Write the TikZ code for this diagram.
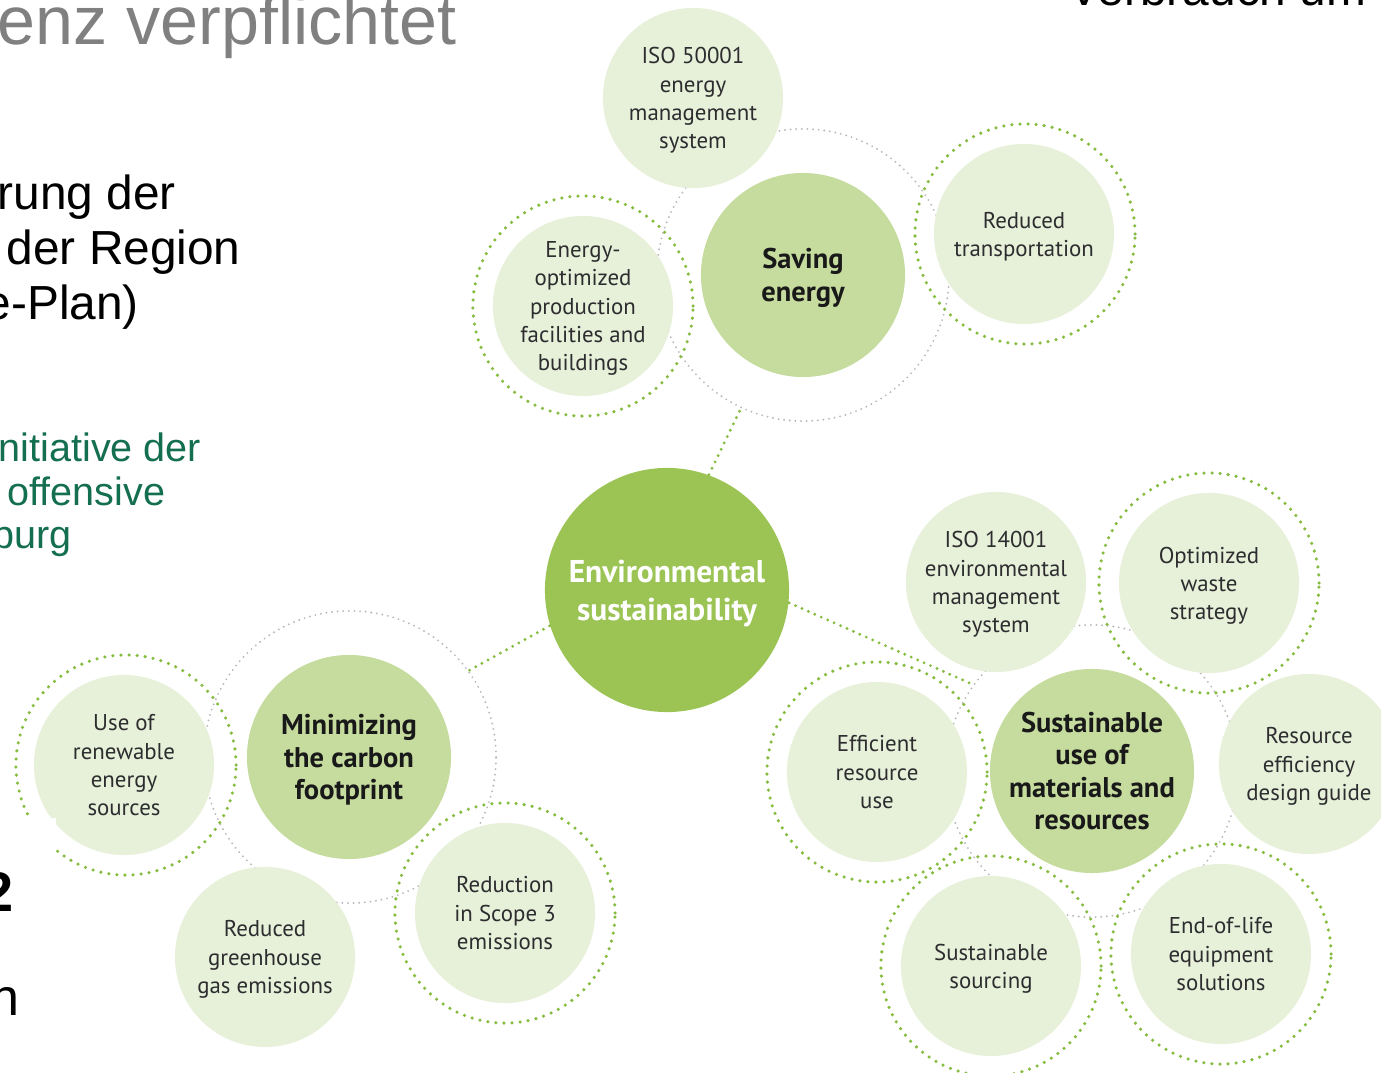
\documentclass[tikz,border=0pt]{standalone}
\usepackage{fontspec}
\setmainfont{Liberation Sans}
\newfontfamily\ptsans{PT Sans}
\definecolor{hubgreen}{RGB}{155,196,85}
\definecolor{topicgreen}{RGB}{198,220,158}
\definecolor{satgreen}{RGB}{231,240,217}
\definecolor{dotgreen}{RGB}{134,188,63}
\definecolor{ringgray}{RGB}{185,185,185}
\definecolor{sattext}{RGB}{45,45,48}
\definecolor{slidegray}{RGB}{128,128,128}
\definecolor{slidegreen}{RGB}{20,110,80}

\begin{document}
\begin{tikzpicture}[x=0.01cm,y=-0.01cm,
        sat/.style={circle,fill=satgreen,minimum size=1.8cm,inner sep=0pt,align=center,
            text=sattext,font=\ptsans\fontsize{6.5}{8}\selectfont,text depth=-1pt},
        topic/.style={circle,fill=topicgreen,minimum size=2.04cm,inner sep=0pt,align=center,
            text=black!90,font=\ptsans\bfseries\fontsize{8.1}{9.25}\selectfont,text depth=-2.4pt},
        hub/.style={circle,fill=hubgreen,minimum size=2.44cm,inner sep=0pt,align=center,
            text=white,font=\ptsans\bfseries\fontsize{8.95}{10.8}\selectfont,text depth=-0.6pt},
        grayring/.style={circle,draw=ringgray,line width=0.6pt,dash pattern=on 0pt off 1.6pt,
            line cap=round,minimum size=2.92cm,inner sep=0pt},
        greenring/.style={draw=dotgreen,line width=1pt,dash pattern=on 0pt off 2.3pt,line cap=round},
        link/.style={draw=dotgreen,line width=0.9pt,dash pattern=on 0pt off 2pt,line cap=round},
        slide/.style={inner sep=0pt,anchor=base west}]
        \useasboundingbox (0,0) rectangle (1381,1073);

        % gray rings round the three topics
        \node[grayring] (S_r) at (803,275) {};
        \node[grayring] (M_r) at (350,757) {};
        \node[grayring] (U_r) at (1092,771) {};

        % green rings
        \draw[greenring] (583,306) circle[radius=1.1cm];
        \draw[greenring] (1025,234) circle[radius=1.1cm];
        \draw[greenring] (126,765) circle[radius=1.1cm];
        \draw[greenring] (505,913) circle[radius=1.1cm];
        \draw[greenring] (1209,583) circle[radius=1.1cm];
        \draw[greenring] (1221,954) circle[radius=1.1cm];
        \draw[greenring] (991,966) circle[radius=1.1cm];
        \draw[greenring] (877,772) circle[radius=1.1cm];

        \node[hub] (E) at (667,590) {Environmental\\sustainability};

        \node[topic] (S) at (803,275) {Saving\\energy};
        \node[sat] (S_1) at (693,98) {ISO 50001\\energy\\management\\system};
        \node[sat] (S_2) at (583,306) {Energy-\\optimized\\production\\facilities and\\buildings};
        \node[sat] (S_3) at (1024,234) {Reduced\\transportation};

        \node[topic] (M) at (349,757) {Minimizing\\the carbon\\footprint};
        \node[sat] (M_1) at (124,765) {Use of\\renewable\\energy\\sources};
        \node[sat] (M_2) at (265,957) {Reduced\\greenhouse\\gas emissions};
        \node[sat] (M_3) at (505,913) {Reduction\\in Scope 3\\emissions};

        \node[topic] (U) at (1092,771) {Sustainable\\use of\\materials and\\resources};
        \node[sat] (U_1) at (996,582) {ISO 14001\\environmental\\management\\system};
        \node[sat] (U_2) at (1209,583) {Optimized\\waste\\strategy};
        \node[sat] (U_3) at (1309,764) {Resource\\efficiency\\design guide};
        \node[sat] (U_4) at (1221,954) {End-of-life\\equipment\\solutions};
        \node[sat] (U_5) at (991,966) {Sustainable\\sourcing};
        \node[sat] (U_6) at (877,772) {Efficient\\resource\\use};

        \draw[link] (E.70) -- (S_r.245);
        \draw[link] (E.197) -- (M_r.36);
        \draw[link] (E.-6) -- (U_r.144);

        % slide text round the picture
        \fill[white] (0,818) rectangle (56,1073);
        \node[slide,text=slidegray,font=\fontsize{19.4}{23}\selectfont] (T_0) at (-3,45) {enz verpflichtet};
        \node[slide,anchor=base east,font=\fontsize{13.6}{15.6}\selectfont] (T_1) at (1367,6) {Verbrauch um};
        \node[slide,font=\fontsize{13.6}{15.6}\selectfont] (T_2) at (-3,210) {rung der};
        \node[slide,font=\fontsize{13.6}{15.6}\selectfont] (T_3) at (6,265) {der Region};
        \node[slide,font=\fontsize{13.6}{15.6}\selectfont] (T_4) at (-16,320) {e-Plan)};
        \node[slide,text=slidegreen,font=\fontsize{11.25}{12.2}\selectfont] (T_5) at (-2,462) {nitiative der};
        \node[slide,text=slidegreen,font=\fontsize{11.25}{12.2}\selectfont] (T_6) at (7,505) {offensive};
        \node[slide,text=slidegreen,font=\fontsize{11.25}{12.2}\selectfont] (T_7) at (-8,548) {burg};
        \node[slide,anchor=base east,font=\bfseries\fontsize{15.9}{18}\selectfont] (T_8) at (14,911) {2};
        \node[slide,anchor=base east,font=\fontsize{14.8}{17}\selectfont] (T_9) at (20,1015) {n};
\end{tikzpicture}
\end{document}
